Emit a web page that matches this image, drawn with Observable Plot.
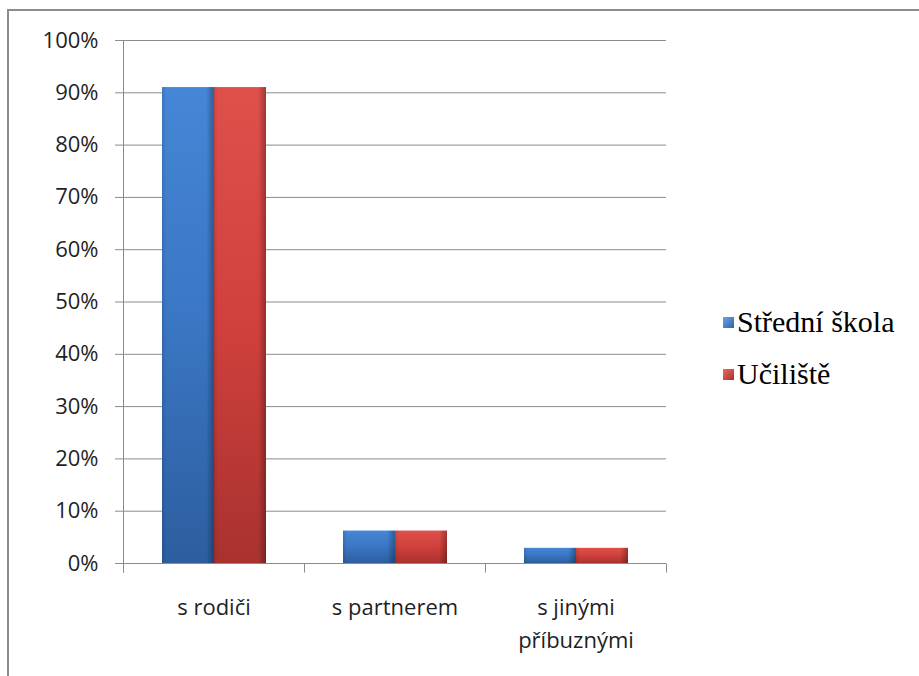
<!DOCTYPE html>
<html>
<head>
<meta charset="utf-8">
<script src="https://cdn.jsdelivr.net/npm/d3@7"></script>
<script src="https://cdn.jsdelivr.net/npm/@observablehq/plot@0.6"></script>
<style>
  html, body { margin: 0; padding: 0; background: #fff; overflow: hidden; }
  #wrap { position: relative; width: 919px; height: 676px; overflow: hidden; }
  #border { position: absolute; left: 7px; top: 9px; width: 1000px; height: 1000px;
            border-top: 2px solid #8c8c8c; border-left: 2px solid #8c8c8c; }
  #chart { position: absolute; left: 0; top: 0; }
  #legend { position: absolute; left: 723px; top: 296px; color: #000; }
  .item { display: flex; align-items: center; height: 52px; }
  .item span { font-family: 'Times New Roman', 'Liberation Serif', Tinos, 'Noto Serif', serif; font-size: 30px; font-weight: normal; }
  .sw { width: 11px; height: 11px; margin-right: 3px; box-sizing: border-box; }
</style>
</head>
<body>
<div id="wrap">
  <div id="border"></div>
  <div id="chart"></div>
  <div id="legend"></div>
</div>
<script>
// ---- data ----
const categories = ["s rodiči", "s partnerem", "s jinými\npříbuznými"];
const seriesNames = ["Střední škola", "Učiliště"];
const stredniSkola = [0.91, 0.062, 0.029];
const uciliste = [0.91, 0.062, 0.029];
const yTicks = [0, 0.1, 0.2, 0.3, 0.4, 0.5, 0.6, 0.7, 0.8, 0.9, 1.0];
const seriesValues = [stredniSkola, uciliste];
const gradIds = ["gBlue", "gRed"];
const legendColors = ["linear-gradient(135deg,#6aa4e6,#2f64a8)", "linear-gradient(135deg,#ee6a64,#a8302d)"];

const rows = categories.flatMap((c, i) =>
  seriesNames.map((s, j) => ({category: c, series: s, value: seriesValues[j][i]})));

// ---- layout ----
const W = 919, H = 676;
const mL = 122, mR = 252, mT = 40, mB = 113;
const plotH = H - mT - mB;
const tickLen = 9;
const gray = "#8c8c8c";

const vline = (y0, y1) => ({draw(ctx) { ctx.moveTo(0, y0); ctx.lineTo(0, y1); }});

const chart = Plot.plot({
  width: W, height: H,
  marginLeft: mL, marginRight: mR, marginTop: mT, marginBottom: mB,
  style: {fontFamily: "'Open Sans', sans-serif", fontSize: "22px", color: "#262626", background: "transparent"},
  fx: {domain: categories, padding: 0, label: null, axis: null},
  x: {domain: seriesNames, paddingInner: 0, paddingOuter: 0.73, axis: null},
  y: {domain: [0, 1], axis: null},
  marks: [
    Plot.gridY(yTicks, {stroke: gray, strokeOpacity: 1, strokeWidth: 1}),
    Plot.axisY(yTicks, {tickFormat: d3.format(".0%"), tickSize: 8, tickPadding: 17, stroke: gray,
                        fill: "#1f1f1f", fontSize: 22, label: null}),
    Plot.axisFx({anchor: "bottom", tickSize: 0, tickPadding: 28, label: null, fill: "#1f1f1f", fontSize: 22, lineHeight: 1.5}),
    // y-axis line (first facet)
    Plot.dot([categories[0]], {fx: d => d, frameAnchor: "bottom-left", symbol: vline(tickLen, -plotH),
                               fill: "none", stroke: gray, strokeWidth: 1}),
    // category boundary ticks
    Plot.dot(categories, {fx: d => d, frameAnchor: "bottom-left", symbol: vline(0, tickLen),
                          fill: "none", stroke: gray, strokeWidth: 1}),
    Plot.dot([categories[categories.length - 1]], {fx: d => d, frameAnchor: "bottom-right", symbol: vline(0, tickLen),
                          fill: "none", stroke: gray, strokeWidth: 1}),
    ...seriesNames.map((s, j) =>
      Plot.barY(rows.filter(r => r.series === s), {fx: "category", x: "series", y: "value", fill: `url(#${gradIds[j]})`})),
    Plot.barY(rows, {fx: "category", x: "series", y: "value", fill: "url(#gShade)"})
  ]
});

// gradients for the bevelled bars
const svg = d3.select(chart);
const defs = svg.insert("defs", ":first-child");
function grad(id, stops, vertical) {
  const g = defs.append("linearGradient").attr("id", id)
    .attr("x1", 0).attr("y1", 0).attr("x2", vertical ? 0 : 1).attr("y2", vertical ? 1 : 0);
  stops.forEach(([o, c, op]) => g.append("stop").attr("offset", o).attr("stop-color", c).attr("stop-opacity", op ?? 1));
}
grad("gBlue", [[0, "#4586d6"], [0.5, "#3a76c3"], [1, "#2d5e9f"]], true);
grad("gRed", [[0, "#e0504b"], [0.5, "#d0403c"], [1, "#a8322f"]], true);
grad("gShade", [[0, "#000", 0.12], [0.08, "#000", 0.0], [0.85, "#000", 0.0], [1, "#000", 0.3]], false);

document.getElementById("chart").appendChild(chart);

// legend
const legend = d3.select("#legend");
seriesNames.forEach((s, j) => {
  const it = legend.append("div").attr("class", "item");
  it.append("div").attr("class", "sw").style("background", legendColors[j]);
  it.append("span").text(s);
});
</script>
</body>
</html>
